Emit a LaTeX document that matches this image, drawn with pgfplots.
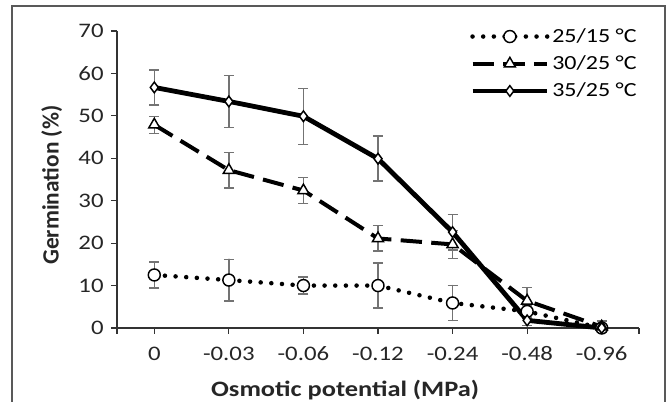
\documentclass[border=0pt]{standalone}
\usepackage{pgfplots}
\pgfplotsset{compat=1.18}
\usepackage{fontspec}
\setmainfont{Carlito}[FakeStretch=1.2]
\newfontfamily\yfont{Carlito}

\pgfplotstableread{
x y e
0 12.5 3.1
1 11.3 4.9
2 10.0 2.0
3 10.0 5.3
4 5.9 4.1
5 3.9 1.5
6 0.0 0.0
}\lowT
\pgfplotstableread{
x y e
0 47.9 2.0
1 37.2 4.2
2 32.4 3.1
3 21.1 3.0
4 19.7 3.3
5 6.4 3.2
6 0.3 1.4
}\midT
\pgfplotstableread{
x y e
0 56.7 4.1
1 53.4 6.1
2 49.9 6.6
3 39.9 5.3
4 22.6 4.2
5 1.8 1.2
6 0.0 0.0
}\highT

\begin{document}
\begin{tikzpicture}
\useasboundingbox (0,0) rectangle (501pt,301.5pt);
\draw[black!65, line width=1.5pt] (9pt,-3pt) -- (9pt,297pt) -- (498.75pt,297pt) -- (498.75pt,-3pt);
\begin{axis}[
  at={(87.75pt,55.5pt)}, anchor=south west,
  scale only axis,
  width=391.5pt, height=222.75pt,
  xmin=-0.5, xmax=6.5,
  ymin=0, ymax=70,
  axis lines*=left,
  axis line style={black!80, line width=0.8pt},
  tick style={black!80, line width=0.8pt},
  tick align=outside,
  major tick length=4.5pt,
  xtick={-0.5,0,1,2,3,4,5,6,6.5},
  xticklabels={,0,-0.03,-0.06,-0.12,-0.24,-0.48,-0.96,},
  ytick={0,10,...,70},
  ticklabel style={font=\fontsize{15.5}{18}\selectfont, text=black!85},
  xticklabel style={yshift=-6pt},
  yticklabel style={xshift=-2pt},
  /pgf/number format/assume math mode=true,
  xlabel={Osmotic potential (MPa)},
  ylabel={Germination (\%)},
  xlabel style={font=\bfseries\fontsize{16.5}{19}\selectfont, text=black!85,
    at={(axis description cs:0.437,-0.209)}, anchor=center},
  ylabel style={font=\yfont\bfseries\fontsize{17.5}{20}\selectfont, text=black!85,
    at={(axis description cs:-0.125,0.481)}, anchor=center},
  clip=false,
  legend style={at={(axis description cs:0.676,1.018)}, anchor=north west,
    draw=none, fill=none, font=\fontsize{15}{18}\selectfont,
    row sep=4.5pt, inner sep=0pt},
  legend cell align=left,
  legend image code/.code={
    \draw[#1, mark repeat=2, mark phase=2] plot coordinates {(0pt,0pt) (28pt,0pt) (56pt,0pt)};},
  error bars/error bar style={black!55, line width=1.1pt, solid},
  error bars/error mark options={rotate=90, mark size=3.8pt, black!55, line width=1.1pt, solid},
]
\addplot[black, line width=3.4pt, line cap=round, dash pattern=on 0pt off 8pt,
  mark=*, mark size=4.5pt, mark options={solid, fill=white, line width=1.1pt},
  error bars/.cd, y dir=both, y explicit]
  table[x=x, y=y, y error=e] {\lowT};
\addlegendentry{25/15 °C}
\addplot[black, line width=3pt, dash pattern=on 16pt off 7pt,
  mark=triangle*, mark size=4.8pt, mark options={solid, fill=white, line width=1.1pt},
  error bars/.cd, y dir=both, y explicit]
  table[x=x, y=y, y error=e] {\midT};
\addlegendentry{30/25 °C}
\addplot[black, line width=3.6pt,
  mark=diamond*, mark size=4pt, mark options={solid, fill=white, line width=1.1pt},
  error bars/.cd, y dir=both, y explicit]
  table[x=x, y=y, y error=e] {\highT};
\addlegendentry{35/25 °C}
\end{axis}
\end{tikzpicture}
\end{document}
